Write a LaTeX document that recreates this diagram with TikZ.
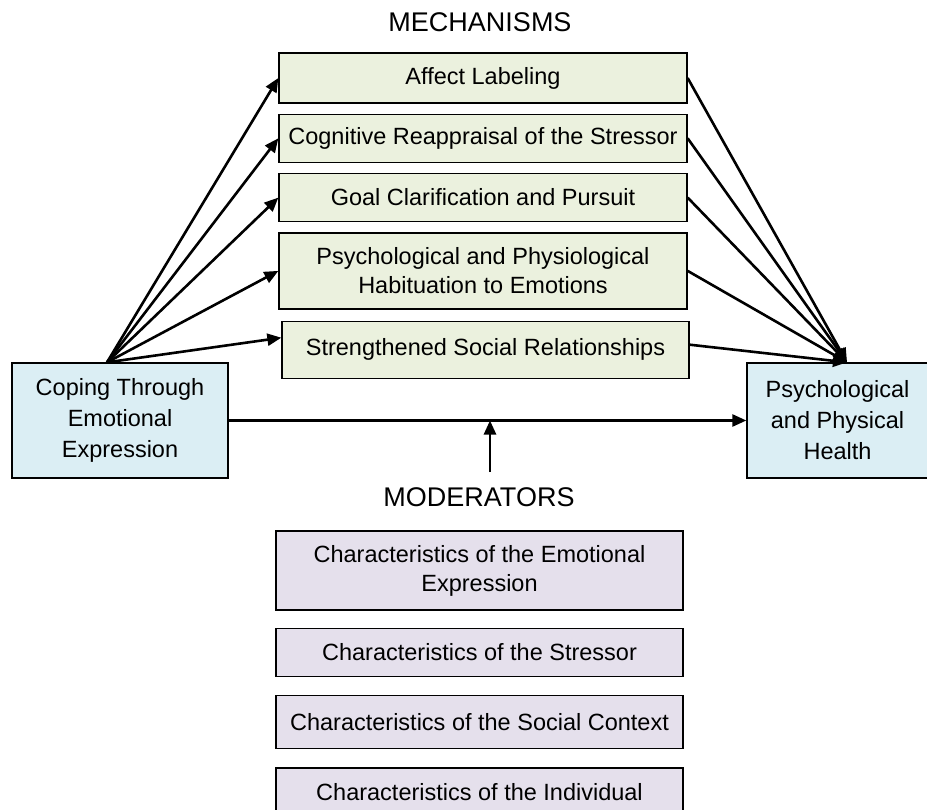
\documentclass[tikz,border=0pt]{standalone}
\usepackage{fontspec}
\setmainfont{Liberation Sans}
\usetikzlibrary{positioning, arrows.meta}
\definecolor{mechgreen}{HTML}{EBF1DE}
\definecolor{causeblue}{HTML}{DBEEF4}
\definecolor{modlilac}{HTML}{E5E0EC}
\tikzset{
  >={Triangle[length=14pt,width=12pt]},
  node distance=10pt,
  every node/.style={font=\fontsize{23.5}{29}\selectfont},
  box/.style={draw, line width=1.3pt, align=center, inner sep=4pt},
  mech/.style={box, fill=mechgreen, minimum width=408pt, minimum height=48pt},
  cause/.style={box, fill=causeblue, minimum height=115pt, font=\fontsize{23.5}{31}\selectfont},
  moder/.style={box, fill=modlilac, minimum width=407pt, minimum height=48pt},
  heading/.style={font=\fontsize{27}{32}\selectfont},
  link/.style={->, line width=2.6pt},
}

\begin{document}
\begin{tikzpicture}[x=1pt, y=-1pt]
      \useasboundingbox (0,0) rectangle (927,810);

      \node[heading]                             (mechs)  at (480,22) {MECHANISMS};
      \node[mech, minimum height=50pt]           (affect) at (483,78) {Affect Labeling};
      \node[mech, below=of affect]               (reapp)  {Cognitive Reappraisal of the Stressor};
      \node[mech, below=of reapp]                (goal)   {Goal Clarification and Pursuit};
      \node[mech, below=of goal, minimum height=76pt]  (habit) {Psychological and Physiological\\Habituation to Emotions};
      \node[mech, below=11pt of habit, xshift=2.5pt, minimum width=407pt, minimum height=57pt] (social) {Strengthened Social Relationships};

      \node[cause, minimum width=216pt]          (cope)   at (120,420.5) {Coping Through\\Emotional\\Expression};
      \node[cause, minimum width=181pt]          (health) at (837.5,420.5) {Psychological\\and Physical\\Health};

      \node[heading]                             (mods)   at (479,497) {MODERATORS};
      \node[moder, minimum height=79pt]          (emo)    at (479.5,570.5) {Characteristics of the Emotional\\Expression};
      \node[moder, below=17pt of emo]            (stress) {Characteristics of the Stressor};
      \node[moder, below=18pt of stress, minimum height=53pt] (context) {Characteristics of the Social Context};
      \node[moder, below=18pt of context]        (indiv)  {Characteristics of the Individual};

      \coordinate (src)     at ([xshift=-13pt]cope.north);
      \coordinate (dst)     at ([xshift=9.5pt]health.north);
      \coordinate (socin)   at ([yshift=12pt]social.west);
      \coordinate (socout)  at ([yshift=5pt]social.east);
      \coordinate (modbase) at (490,472);
      \coordinate (modjoin) at (490,420.5);

      \draw[link] (src) -- (affect.west);
      \draw[link] (src) -- (reapp.west);
      \draw[link] (src) -- (goal.west);
      \draw[link] (src) -- (habit.west);
      \draw[link] (src) -- (socin);
      \draw[link] (affect.east) -- (dst);
      \draw[link] (reapp.east)  -- (dst);
      \draw[link] (goal.east)   -- (dst);
      \draw[link] (habit.east)  -- (dst);
      \draw[link] (socout)      -- (dst);

      \draw[link] (cope.east) -- (health.west);
      \draw[link] (modbase) -- (modjoin);
\end{tikzpicture}
\end{document}
